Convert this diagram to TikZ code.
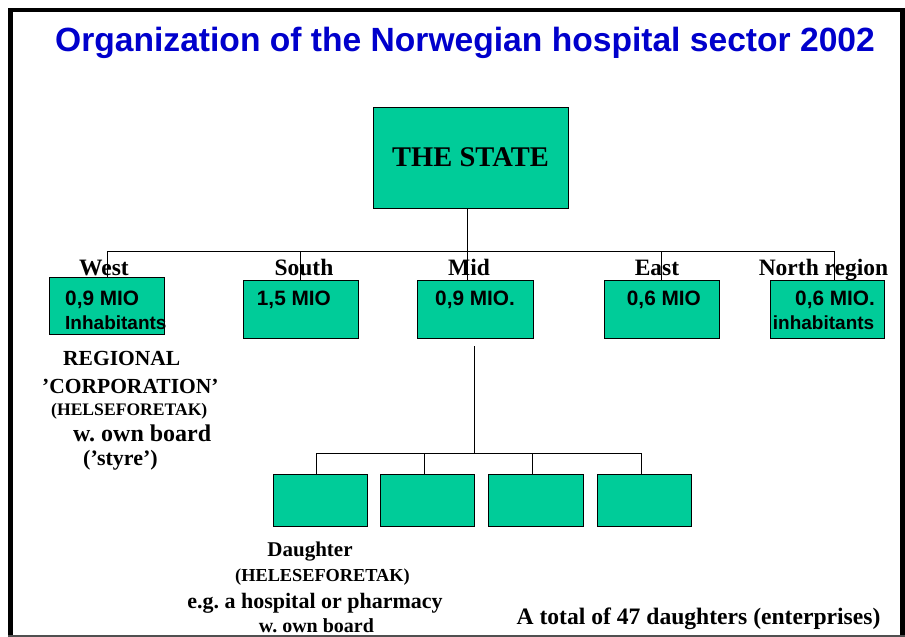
\documentclass[tikz,border=0pt]{standalone}
\usepackage{fontspec}
\setmainfont{Liberation Serif}
\newfontfamily\arialfont{Liberation Sans}
\definecolor{boxgreen}{RGB}{0,204,153}
\definecolor{titleblue}{RGB}{0,0,204}
\definecolor{framegray}{RGB}{80,80,80}
\newcommand{\fs}[1]{\fontsize{#1}{#1}\selectfont}
\tikzset{
  orgbox/.style={draw=black, line width=0.9pt, fill=boxgreen, inner sep=0pt},
  link/.style={draw=black, line width=0.8pt},
  serifb/.style={font=\bfseries, inner sep=0pt},
  sansb/.style={font=\arialfont\bfseries, inner sep=0pt, anchor=base west},
}
\begin{document}
\frenchspacing
\begin{tikzpicture}[x=1pt,y=-1pt]
\useasboundingbox (0,0) rectangle (905,637);
\fill[white] (0,0) rectangle (905,637);

% frame
\draw[line width=5pt] (10.8,8) -- (10.8,637);
\draw[line width=4pt] (8,10.3) -- (905,10.3);
\draw[line width=4.5pt] (902.7,8) -- (902.7,637);
\draw[framegray, line width=1.6pt] (8,635.8) -- (905,635.8);

% title
\node[font=\arialfont\bfseries\fs{33.6}, text=titleblue, inner sep=0pt, anchor=base]
  (title) at (465,51) {Organization of the Norwegian hospital sector 2002};

% the state
\node[orgbox, minimum width=195pt, minimum height=101pt, font=\bfseries\fs{28.5}]
  (state) at (470.5,157.5) {THE STATE};

% regional boxes
\node[orgbox, minimum width=115pt, minimum height=57pt] (west)  at (106.5,305.5) {};
\node[orgbox, minimum width=115pt, minimum height=58pt] (south) at (300.5,309) {};
\node[orgbox, minimum width=116pt, minimum height=58pt] (mid)   at (475,309) {};
\node[orgbox, minimum width=115pt, minimum height=58pt] (east)  at (661.5,309) {};
\node[orgbox, minimum width=114pt, minimum height=58pt] (north) at (827,309) {};

% region names
\node[serifb, anchor=base, font=\bfseries\fs{23.5}] (lwest)  at (104,275) {West};
\node[serifb, anchor=base, font=\bfseries\fs{23.5}] (lsouth) at (304,275) {South};
\node[serifb, anchor=base, font=\bfseries\fs{23.5}] (lmid)   at (469,275) {Mid};
\node[serifb, anchor=base, font=\bfseries\fs{23.5}] (least)  at (657,275) {East};
\node[serifb, anchor=base, font=\bfseries\fs{23.5}] (lnorth) at (823.5,275) {North region};

% inhabitants
\node[sansb, font=\arialfont\bfseries\fs{20.8}] (twest)  at (65,305.5) {0,9 MIO};
\node[sansb, font=\arialfont\bfseries\fs{19}]   (twest2) at (65,329.3) {Inhabitants};
\node[sansb, font=\arialfont\bfseries\fs{20.8}] (tsouth) at (256.7,305.5) {1,5 MIO};
\node[sansb, font=\arialfont\bfseries\fs{20.8}] (tmid)   at (435,305.5) {0,9 MIO.};
\node[sansb, font=\arialfont\bfseries\fs{20.8}] (teast)  at (626.7,305.5) {0,6 MIO};
\node[sansb, font=\arialfont\bfseries\fs{20.8}] (tnorth) at (795,305.5) {0,6 MIO.};
\node[sansb, font=\arialfont\bfseries\fs{19}]   (tnorth2) at (772.7,329.3) {inhabitants};

% regional corporation note
\node[serifb, anchor=base west, font=\bfseries\fs{21.5}] (n1) at (63,365) {REGIONAL};
\node[serifb, anchor=base west, font=\bfseries\fs{21.5}] (n2) at (42,393) {’CORPORATION’};
\node[serifb, anchor=base west, font=\bfseries\fs{17.6}] (n3) at (51,415) {(HELSEFORETAK)};
\node[serifb, anchor=base west, font=\bfseries\fs{24}]   (n4) at (73,441.5) {w. own board};
\node[serifb, anchor=base west, font=\bfseries\fs{22}]   (n5) at (83,465) {(’styre’)};

% daughter boxes
\node[orgbox, minimum width=94pt, minimum height=52pt] (d1) at (320,500) {};
\node[orgbox, minimum width=94pt, minimum height=52pt] (d2) at (427,500) {};
\node[orgbox, minimum width=95pt, minimum height=52pt] (d3) at (535.5,500) {};
\node[orgbox, minimum width=94pt, minimum height=52pt] (d4) at (644,500) {};

% daughter note
\node[serifb, anchor=base, font=\bfseries\fs{21}]   (m1) at (310,556) {Daughter};
\node[serifb, anchor=base, font=\bfseries\fs{18.3}] (m2) at (322.5,581.5) {(HELESEFORETAK)};
\node[serifb, anchor=base, font=\bfseries\fs{22}]   (m3) at (315,608) {e.g. a hospital or pharmacy};
\node[serifb, anchor=base, font=\bfseries\fs{20}]   (m4) at (316.5,632.5) {w. own board};

\node[serifb, anchor=base, font=\bfseries\fs{23.6}] (total) at (698.5,624) {A total of 47 daughters (enterprises)};

% connectors: state to regions
\coordinate (jW) at (107,251);
\coordinate (jS) at (300,251);
\coordinate (jM) at (467,251);
\coordinate (jE) at (661,251);
\coordinate (jN) at (834,251);
\draw[link] (jM |- state.south) -- (jM);
\draw[link] (jW) -- (jN);
\draw[link] (jW) -- (jW |- west.north);
\draw[link] (jS) -- (jS |- south.north);
\draw[link] (jM) -- (jM |- mid.north);
\draw[link] (jE) -- (jE |- east.north);
\draw[link] (jN) -- (jN |- north.north);

% connectors: mid region to daughters
\coordinate (mtop) at (474,346);
\coordinate (dbus) at (474,453);
\coordinate (k1) at (316,453);
\coordinate (k2) at (424,453);
\coordinate (k3) at (532,453);
\coordinate (k4) at (641,453);
\draw[link] (mtop) -- (dbus);
\draw[link] (k1) -- (k4);
\draw[link] (k1) -- (k1 |- d1.north);
\draw[link] (k2) -- (k2 |- d2.north);
\draw[link] (k3) -- (k3 |- d3.north);
\draw[link] (k4) -- (k4 |- d4.north);
\end{tikzpicture}
\end{document}
